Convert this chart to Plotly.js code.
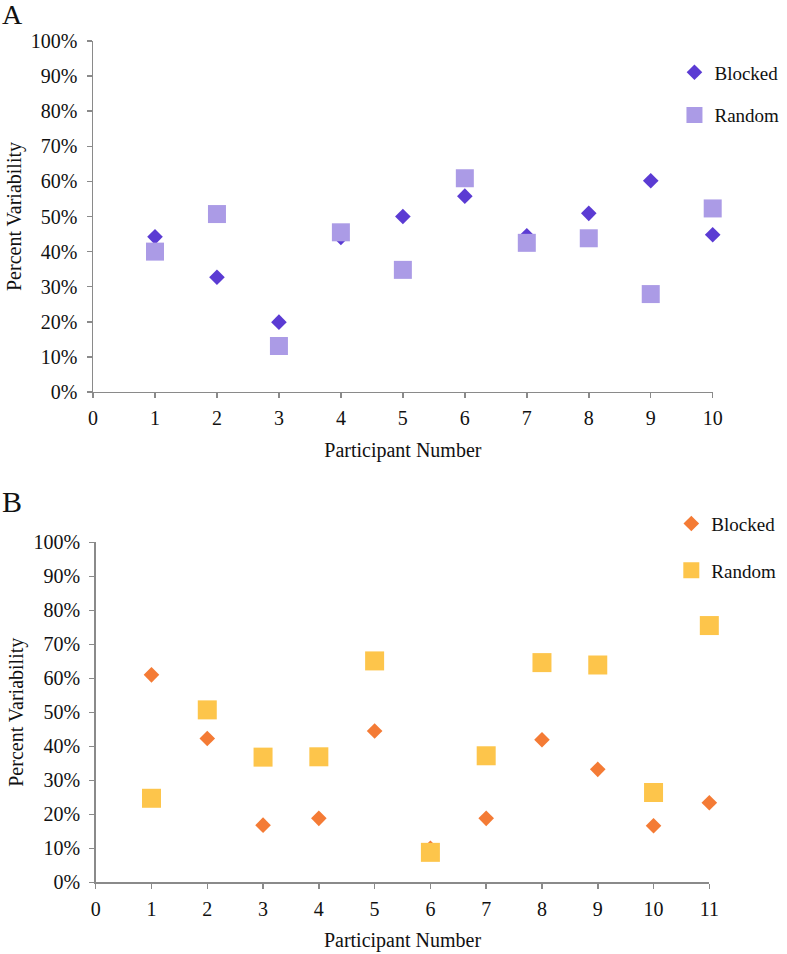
<!DOCTYPE html>
<html>
<head>
<meta charset="utf-8">
<script src="https://cdn.plot.ly/plotly-3.0.1.min.js"></script>
<style>
  html, body { margin: 0; padding: 0; background: #fff; }
  #chart { width: 787px; height: 954px; }
</style>
</head>
<body>
<div id="chart"></div>
<script>
// --- datos ---
// Panel A: 10 participantes
const participantsA = [1, 2, 3, 4, 5, 6, 7, 8, 9, 10];
const blockedA = [0.442, 0.327, 0.199, 0.440, 0.500, 0.558, 0.445, 0.509, 0.602, 0.448];
const randomA  = [0.400, 0.507, 0.131, 0.455, 0.348, 0.609, 0.425, 0.438, 0.279, 0.523];

// Panel B: 11 participantes
const participantsB = [1, 2, 3, 4, 5, 6, 7, 8, 9, 10, 11];
const blockedB = [0.610, 0.423, 0.168, 0.188, 0.445, 0.100, 0.188, 0.419, 0.332, 0.166, 0.234];
const randomB  = [0.247, 0.507, 0.368, 0.369, 0.651, 0.088, 0.372, 0.646, 0.639, 0.264, 0.755];

const yTicks = [0, 0.1, 0.2, 0.3, 0.4, 0.5, 0.6, 0.7, 0.8, 0.9, 1.0];

// colores
const colBlockedA = '#5b3bd3';
const colRandomA = '#ab9be6';
const colBlockedB = '#f47b35';
const colRandomB = '#fdc54b';

const serif = 'Liberation Serif, Times New Roman, serif';

// --- trazas ---
const traceBlockedA = {
  x: participantsA, y: blockedA,
  type: 'scatter', mode: 'markers', name: 'Blocked', cliponaxis: false,
  xaxis: 'x', yaxis: 'y', legend: 'legend', legendgroup: 'a1',
  marker: { symbol: 'diamond', size: 12, color: colBlockedA }
};
const traceRandomA = {
  x: participantsA, y: randomA,
  type: 'scatter', mode: 'markers', name: 'Random', cliponaxis: false,
  xaxis: 'x', yaxis: 'y', legend: 'legend', legendgroup: 'a2',
  marker: { symbol: 'square', size: 18, color: colRandomA }
};
const traceBlockedB = {
  x: participantsB, y: blockedB,
  type: 'scatter', mode: 'markers', name: 'Blocked', cliponaxis: false,
  xaxis: 'x2', yaxis: 'y2', legend: 'legend2', legendgroup: 'b1',
  marker: { symbol: 'diamond', size: 12, color: colBlockedB }
};
const traceRandomB = {
  x: participantsB, y: randomB,
  type: 'scatter', mode: 'markers', name: 'Random', cliponaxis: false,
  xaxis: 'x2', yaxis: 'y2', legend: 'legend2', legendgroup: 'b2',
  marker: { symbol: 'square', size: 19, color: colRandomB }
};

// --- ejes comunes ---
function xAxis(maxX, domain, anchor) {
  return {
    domain: domain, anchor: anchor,
    range: [0, maxX], tickmode: 'linear', tick0: 0, dtick: 1,
    showgrid: false, zeroline: false,
    showline: true, linecolor: '#8a8a8a', linewidth: 1.5,
    ticks: 'outside', ticklen: 5, tickcolor: '#8a8a8a', tickwidth: 1.5,
    ticklabelstandoff: 3,
    tickfont: { family: serif, size: 20, color: '#111' },
    title: { text: 'Participant Number', font: { family: serif, size: 20, color: '#111' }, standoff: 14 }
  };
}
function yAxis(domain, anchor) {
  return {
    domain: domain, anchor: anchor,
    range: [0, 1], tickvals: yTicks, tickformat: '.0%',
    showgrid: false, zeroline: false,
    showline: true, linecolor: '#8a8a8a', linewidth: 1.5,
    ticks: 'outside', ticklen: 5, tickcolor: '#8a8a8a', tickwidth: 1.5,
    ticklabelstandoff: 5,
    tickfont: { family: serif, size: 20, color: '#111' },
    title: { text: 'Percent Variability', font: { family: serif, size: 20, color: '#111' }, standoff: 4 }
  };
}

const legendStyle = {
  font: { family: serif, size: 19, color: '#111' },
  bgcolor: 'rgba(0,0,0,0)', borderwidth: 0,
  xanchor: 'left', yanchor: 'middle'
};

const layout = {
  width: 787, height: 954,
  margin: { l: 0, r: 0, t: 0, b: 0 },
  paper_bgcolor: '#fff', plot_bgcolor: '#fff',
  showlegend: true,
  xaxis: xAxis(10, [0.1182, 0.9056], 'y'),
  yaxis: yAxis([0.5891, 0.9570], 'x'),
  xaxis2: xAxis(11, [0.1216, 0.9013], 'y2'),
  yaxis2: yAxis([0.0752, 0.4316], 'x2'),
  legend: Object.assign({ x: 0.857, y: 0.9015, tracegroupgap: 15 }, legendStyle),
  legend2: Object.assign({ x: 0.853, y: 0.4265, tracegroupgap: 19 }, legendStyle),
  annotations: [
    { text: 'A', xref: 'paper', yref: 'paper', x: 0, y: 1.003, xanchor: 'left', yanchor: 'top',
      showarrow: false, font: { family: serif, size: 28, color: '#111' } },
    { text: 'B', xref: 'paper', yref: 'paper', x: 0, y: 0.494, xanchor: 'left', yanchor: 'top',
      showarrow: false, font: { family: serif, size: 30, color: '#111' } }
  ]
};

Plotly.newPlot('chart', [traceBlockedA, traceRandomA, traceBlockedB, traceRandomB], layout,
  { displayModeBar: false, staticPlot: true });
</script>
</body>
</html>
